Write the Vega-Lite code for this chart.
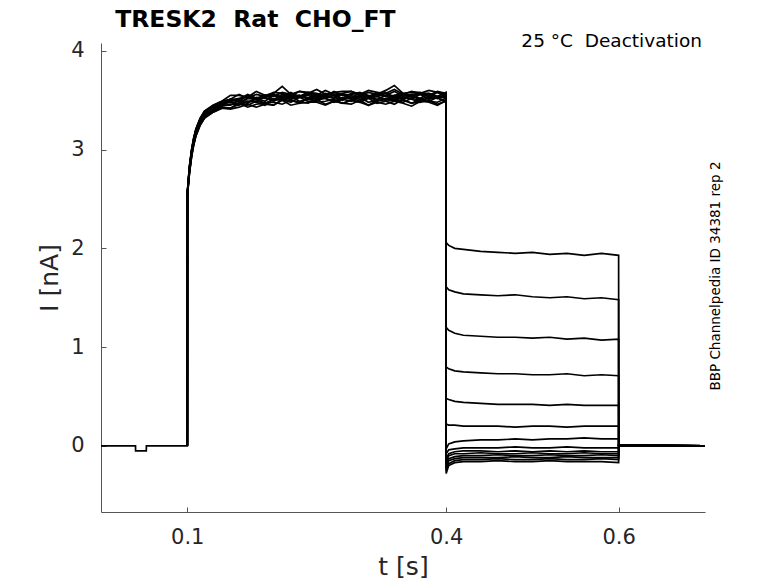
{
  "$schema": "https://vega.github.io/schema/vega-lite/v6.json",
  "width": 604,
  "height": 469,
  "autosize": "none",
  "padding": {"left": 101, "top": 43, "right": 73, "bottom": 71},
  "background": "white",
  "datasets": {
    "traces": [
      {"s":1,"t":0,"i":0},{"s":1,"t":0.04,"i":0},{"s":1,"t":0.0401,"i":-0.05},{"s":1,"t":0.0525,"i":-0.05},{"s":1,"t":0.0526,"i":0},
      {"s":1,"t":0.1,"i":0},{"s":1,"t":0.1001,"i":2.56},{"s":1,"t":0.1025,"i":2.82},{"s":1,"t":0.105,"i":2.99},{"s":1,"t":0.1075,"i":3.11},{"s":1,"t":0.11,"i":3.2},{"s":1,"t":0.115,"i":3.31},{"s":1,"t":0.12,"i":3.38},{"s":1,"t":0.13,"i":3.44},{"s":1,"t":0.14,"i":3.48},
      {"s":1,"t":0.15,"i":3.51},{"s":1,"t":0.16,"i":3.51},{"s":1,"t":0.17,"i":3.56},{"s":1,"t":0.18,"i":3.52},{"s":1,"t":0.19,"i":3.55},{"s":1,"t":0.2,"i":3.54},{"s":1,"t":0.21,"i":3.58},{"s":1,"t":0.22,"i":3.56},{"s":1,"t":0.23,"i":3.53},{"s":1,"t":0.24,"i":3.58},{"s":1,"t":0.25,"i":3.57},{"s":1,"t":0.26,"i":3.54},{"s":1,"t":0.27,"i":3.59},
      {"s":1,"t":0.28,"i":3.55},{"s":1,"t":0.29,"i":3.56},{"s":1,"t":0.3,"i":3.58},{"s":1,"t":0.31,"i":3.54},{"s":1,"t":0.32,"i":3.57},{"s":1,"t":0.33,"i":3.55},{"s":1,"t":0.34,"i":3.59},{"s":1,"t":0.35,"i":3.54},{"s":1,"t":0.36,"i":3.56},{"s":1,"t":0.37,"i":3.57},{"s":1,"t":0.38,"i":3.57},{"s":1,"t":0.39,"i":3.54},{"s":1,"t":0.3999,"i":3.58},
      {"s":1,"t":0.4,"i":2.06},{"s":1,"t":0.403,"i":2.03},{"s":1,"t":0.41,"i":2.0},{"s":1,"t":0.42,"i":1.99},{"s":1,"t":0.44,"i":1.97},{"s":1,"t":0.46,"i":1.96},{"s":1,"t":0.48,"i":1.95},{"s":1,"t":0.5,"i":1.96},{"s":1,"t":0.52,"i":1.94},{"s":1,"t":0.54,"i":1.95},{"s":1,"t":0.56,"i":1.93},{"s":1,"t":0.58,"i":1.95},{"s":1,"t":0.5999,"i":1.93},
      {"s":1,"t":0.6,"i":0.005},{"s":1,"t":0.7,"i":0},

      {"s":2,"t":0.1,"i":0},{"s":2,"t":0.1001,"i":2.54},{"s":2,"t":0.1025,"i":2.77},{"s":2,"t":0.105,"i":2.94},{"s":2,"t":0.1075,"i":3.06},{"s":2,"t":0.11,"i":3.15},{"s":2,"t":0.115,"i":3.26},{"s":2,"t":0.12,"i":3.33},{"s":2,"t":0.13,"i":3.39},{"s":2,"t":0.14,"i":3.43},
      {"s":2,"t":0.15,"i":3.42},{"s":2,"t":0.16,"i":3.46},{"s":2,"t":0.17,"i":3.45},{"s":2,"t":0.18,"i":3.49},{"s":2,"t":0.19,"i":3.47},{"s":2,"t":0.2,"i":3.45},{"s":2,"t":0.21,"i":3.51},{"s":2,"t":0.22,"i":3.5},{"s":2,"t":0.23,"i":3.47},{"s":2,"t":0.24,"i":3.52},{"s":2,"t":0.25,"i":3.48},{"s":2,"t":0.26,"i":3.49},{"s":2,"t":0.27,"i":3.51},
      {"s":2,"t":0.28,"i":3.47},{"s":2,"t":0.29,"i":3.5},{"s":2,"t":0.3,"i":3.48},{"s":2,"t":0.31,"i":3.52},{"s":2,"t":0.32,"i":3.47},{"s":2,"t":0.33,"i":3.49},{"s":2,"t":0.34,"i":3.5},{"s":2,"t":0.35,"i":3.5},{"s":2,"t":0.36,"i":3.47},{"s":2,"t":0.37,"i":3.51},{"s":2,"t":0.38,"i":3.49},{"s":2,"t":0.39,"i":3.48},{"s":2,"t":0.3999,"i":3.52},
      {"s":2,"t":0.4,"i":1.61},{"s":2,"t":0.403,"i":1.58},{"s":2,"t":0.41,"i":1.56},{"s":2,"t":0.42,"i":1.54},{"s":2,"t":0.44,"i":1.53},{"s":2,"t":0.46,"i":1.52},{"s":2,"t":0.48,"i":1.53},{"s":2,"t":0.5,"i":1.51},{"s":2,"t":0.52,"i":1.5},{"s":2,"t":0.54,"i":1.51},{"s":2,"t":0.56,"i":1.49},{"s":2,"t":0.58,"i":1.5},{"s":2,"t":0.5999,"i":1.48},
      {"s":2,"t":0.6,"i":0.005},{"s":2,"t":0.7,"i":0},

      {"s":3,"t":0.1,"i":0},{"s":3,"t":0.1001,"i":2.55},{"s":3,"t":0.1025,"i":2.8},{"s":3,"t":0.105,"i":2.97},{"s":3,"t":0.1075,"i":3.09},{"s":3,"t":0.11,"i":3.18},{"s":3,"t":0.115,"i":3.29},{"s":3,"t":0.12,"i":3.36},{"s":3,"t":0.13,"i":3.42},{"s":3,"t":0.14,"i":3.46},
      {"s":3,"t":0.15,"i":3.5},{"s":3,"t":0.16,"i":3.49},{"s":3,"t":0.17,"i":3.47},{"s":3,"t":0.18,"i":3.53},{"s":3,"t":0.19,"i":3.52},{"s":3,"t":0.2,"i":3.5},{"s":3,"t":0.21,"i":3.56},{"s":3,"t":0.22,"i":3.52},{"s":3,"t":0.23,"i":3.53},{"s":3,"t":0.24,"i":3.55},{"s":3,"t":0.25,"i":3.51},{"s":3,"t":0.26,"i":3.54},{"s":3,"t":0.27,"i":3.52},
      {"s":3,"t":0.28,"i":3.56},{"s":3,"t":0.29,"i":3.51},{"s":3,"t":0.3,"i":3.53},{"s":3,"t":0.31,"i":3.54},{"s":3,"t":0.32,"i":3.54},{"s":3,"t":0.33,"i":3.51},{"s":3,"t":0.34,"i":3.55},{"s":3,"t":0.35,"i":3.53},{"s":3,"t":0.36,"i":3.52},{"s":3,"t":0.37,"i":3.56},{"s":3,"t":0.38,"i":3.51},{"s":3,"t":0.39,"i":3.54},{"s":3,"t":0.3999,"i":3.52},
      {"s":3,"t":0.4,"i":1.2},{"s":3,"t":0.403,"i":1.17},{"s":3,"t":0.41,"i":1.14},{"s":3,"t":0.42,"i":1.12},{"s":3,"t":0.44,"i":1.11},{"s":3,"t":0.46,"i":1.1},{"s":3,"t":0.48,"i":1.1},{"s":3,"t":0.5,"i":1.09},{"s":3,"t":0.52,"i":1.1},{"s":3,"t":0.54,"i":1.08},{"s":3,"t":0.56,"i":1.09},{"s":3,"t":0.58,"i":1.07},{"s":3,"t":0.5999,"i":1.08},
      {"s":3,"t":0.6,"i":0.005},{"s":3,"t":0.7,"i":0},

      {"s":4,"t":0.1,"i":0},{"s":4,"t":0.1001,"i":2.57},{"s":4,"t":0.1025,"i":2.83},{"s":4,"t":0.105,"i":3.0},{"s":4,"t":0.1075,"i":3.12},{"s":4,"t":0.11,"i":3.21},{"s":4,"t":0.115,"i":3.32},{"s":4,"t":0.12,"i":3.39},{"s":4,"t":0.13,"i":3.45},{"s":4,"t":0.14,"i":3.49},
      {"s":4,"t":0.15,"i":3.55},{"s":4,"t":0.16,"i":3.55},{"s":4,"t":0.17,"i":3.53},{"s":4,"t":0.18,"i":3.59},{"s":4,"t":0.19,"i":3.55},{"s":4,"t":0.2,"i":3.57},{"s":4,"t":0.21,"i":3.64},{"s":4,"t":0.22,"i":3.56},{"s":4,"t":0.23,"i":3.59},{"s":4,"t":0.24,"i":3.57},{"s":4,"t":0.25,"i":3.61},{"s":4,"t":0.26,"i":3.56},{"s":4,"t":0.27,"i":3.58},
      {"s":4,"t":0.28,"i":3.59},{"s":4,"t":0.29,"i":3.59},{"s":4,"t":0.3,"i":3.56},{"s":4,"t":0.31,"i":3.6},{"s":4,"t":0.32,"i":3.58},{"s":4,"t":0.33,"i":3.57},{"s":4,"t":0.34,"i":3.61},{"s":4,"t":0.35,"i":3.56},{"s":4,"t":0.36,"i":3.59},{"s":4,"t":0.37,"i":3.57},{"s":4,"t":0.38,"i":3.6},{"s":4,"t":0.39,"i":3.58},{"s":4,"t":0.3999,"i":3.55},
      {"s":4,"t":0.4,"i":0.8},{"s":4,"t":0.403,"i":0.78},{"s":4,"t":0.41,"i":0.76},{"s":4,"t":0.42,"i":0.75},{"s":4,"t":0.44,"i":0.74},{"s":4,"t":0.46,"i":0.73},{"s":4,"t":0.48,"i":0.73},{"s":4,"t":0.5,"i":0.72},{"s":4,"t":0.52,"i":0.72},{"s":4,"t":0.54,"i":0.73},{"s":4,"t":0.56,"i":0.71},{"s":4,"t":0.58,"i":0.72},{"s":4,"t":0.5999,"i":0.71},
      {"s":4,"t":0.6,"i":0.005},{"s":4,"t":0.7,"i":0},

      {"s":5,"t":0.1,"i":0},{"s":5,"t":0.1001,"i":2.55},{"s":5,"t":0.1025,"i":2.79},{"s":5,"t":0.105,"i":2.96},{"s":5,"t":0.1075,"i":3.08},{"s":5,"t":0.11,"i":3.17},{"s":5,"t":0.115,"i":3.28},{"s":5,"t":0.12,"i":3.35},{"s":5,"t":0.13,"i":3.41},{"s":5,"t":0.14,"i":3.45},
      {"s":5,"t":0.15,"i":3.49},{"s":5,"t":0.16,"i":3.46},{"s":5,"t":0.17,"i":3.48},{"s":5,"t":0.18,"i":3.51},{"s":5,"t":0.19,"i":3.47},{"s":5,"t":0.2,"i":3.51},{"s":5,"t":0.21,"i":3.5},{"s":5,"t":0.22,"i":3.54},{"s":5,"t":0.23,"i":3.49},{"s":5,"t":0.24,"i":3.51},{"s":5,"t":0.25,"i":3.52},{"s":5,"t":0.26,"i":3.52},{"s":5,"t":0.27,"i":3.49},
      {"s":5,"t":0.28,"i":3.53},{"s":5,"t":0.29,"i":3.51},{"s":5,"t":0.3,"i":3.5},{"s":5,"t":0.31,"i":3.54},{"s":5,"t":0.32,"i":3.49},{"s":5,"t":0.33,"i":3.52},{"s":5,"t":0.34,"i":3.5},{"s":5,"t":0.35,"i":3.53},{"s":5,"t":0.36,"i":3.51},{"s":5,"t":0.37,"i":3.48},{"s":5,"t":0.38,"i":3.53},{"s":5,"t":0.39,"i":3.52},{"s":5,"t":0.3999,"i":3.49},
      {"s":5,"t":0.4,"i":0.48},{"s":5,"t":0.403,"i":0.47},{"s":5,"t":0.41,"i":0.45},{"s":5,"t":0.42,"i":0.44},{"s":5,"t":0.44,"i":0.43},{"s":5,"t":0.46,"i":0.42},{"s":5,"t":0.48,"i":0.42},{"s":5,"t":0.5,"i":0.42},{"s":5,"t":0.52,"i":0.41},{"s":5,"t":0.54,"i":0.42},{"s":5,"t":0.56,"i":0.41},{"s":5,"t":0.58,"i":0.41},{"s":5,"t":0.5999,"i":0.41},
      {"s":5,"t":0.6,"i":0.005},{"s":5,"t":0.7,"i":0},

      {"s":6,"t":0.1,"i":0},{"s":6,"t":0.1001,"i":2.56},{"s":6,"t":0.1025,"i":2.81},{"s":6,"t":0.105,"i":2.98},{"s":6,"t":0.1075,"i":3.1},{"s":6,"t":0.11,"i":3.19},{"s":6,"t":0.115,"i":3.3},{"s":6,"t":0.12,"i":3.37},{"s":6,"t":0.13,"i":3.43},{"s":6,"t":0.14,"i":3.47},
      {"s":6,"t":0.15,"i":3.51},{"s":6,"t":0.16,"i":3.48},{"s":6,"t":0.17,"i":3.52},{"s":6,"t":0.18,"i":3.51},{"s":6,"t":0.19,"i":3.55},{"s":6,"t":0.2,"i":3.51},{"s":6,"t":0.21,"i":3.54},{"s":6,"t":0.22,"i":3.55},{"s":6,"t":0.23,"i":3.55},{"s":6,"t":0.24,"i":3.52},{"s":6,"t":0.25,"i":3.56},{"s":6,"t":0.26,"i":3.54},{"s":6,"t":0.27,"i":3.53},
      {"s":6,"t":0.28,"i":3.57},{"s":6,"t":0.29,"i":3.52},{"s":6,"t":0.3,"i":3.55},{"s":6,"t":0.31,"i":3.53},{"s":6,"t":0.32,"i":3.56},{"s":6,"t":0.33,"i":3.54},{"s":6,"t":0.34,"i":3.51},{"s":6,"t":0.35,"i":3.56},{"s":6,"t":0.36,"i":3.55},{"s":6,"t":0.37,"i":3.52},{"s":6,"t":0.38,"i":3.57},{"s":6,"t":0.39,"i":3.53},{"s":6,"t":0.3999,"i":3.54},
      {"s":6,"t":0.4,"i":0.22},{"s":6,"t":0.403,"i":0.21},{"s":6,"t":0.41,"i":0.21},{"s":6,"t":0.42,"i":0.2},{"s":6,"t":0.44,"i":0.2},{"s":6,"t":0.46,"i":0.2},{"s":6,"t":0.48,"i":0.19},{"s":6,"t":0.5,"i":0.2},{"s":6,"t":0.52,"i":0.2},{"s":6,"t":0.54,"i":0.19},{"s":6,"t":0.56,"i":0.2},{"s":6,"t":0.58,"i":0.2},{"s":6,"t":0.5999,"i":0.2},
      {"s":6,"t":0.6,"i":0.005},{"s":6,"t":0.7,"i":0},

      {"s":7,"t":0.1,"i":0},{"s":7,"t":0.1001,"i":2.53},{"s":7,"t":0.1025,"i":2.76},{"s":7,"t":0.105,"i":2.93},{"s":7,"t":0.1075,"i":3.05},{"s":7,"t":0.11,"i":3.14},{"s":7,"t":0.115,"i":3.25},{"s":7,"t":0.12,"i":3.32},{"s":7,"t":0.13,"i":3.38},{"s":7,"t":0.14,"i":3.42},
      {"s":7,"t":0.15,"i":3.42},{"s":7,"t":0.16,"i":3.47},{"s":7,"t":0.17,"i":3.43},{"s":7,"t":0.18,"i":3.46},{"s":7,"t":0.19,"i":3.47},{"s":7,"t":0.2,"i":3.48},{"s":7,"t":0.21,"i":3.46},{"s":7,"t":0.22,"i":3.5},{"s":7,"t":0.23,"i":3.48},{"s":7,"t":0.24,"i":3.47},{"s":7,"t":0.25,"i":3.51},{"s":7,"t":0.26,"i":3.46},{"s":7,"t":0.27,"i":3.49},
      {"s":7,"t":0.28,"i":3.47},{"s":7,"t":0.29,"i":3.5},{"s":7,"t":0.3,"i":3.48},{"s":7,"t":0.31,"i":3.45},{"s":7,"t":0.32,"i":3.5},{"s":7,"t":0.33,"i":3.49},{"s":7,"t":0.34,"i":3.46},{"s":7,"t":0.35,"i":3.51},{"s":7,"t":0.36,"i":3.47},{"s":7,"t":0.37,"i":3.48},{"s":7,"t":0.38,"i":3.5},{"s":7,"t":0.39,"i":3.46},{"s":7,"t":0.3999,"i":3.49},
      {"s":7,"t":0.4,"i":-0.03},{"s":7,"t":0.403,"i":0.02},{"s":7,"t":0.41,"i":0.04},{"s":7,"t":0.42,"i":0.05},{"s":7,"t":0.44,"i":0.06},{"s":7,"t":0.46,"i":0.06},{"s":7,"t":0.48,"i":0.07},{"s":7,"t":0.5,"i":0.06},{"s":7,"t":0.52,"i":0.07},{"s":7,"t":0.54,"i":0.07},{"s":7,"t":0.56,"i":0.08},{"s":7,"t":0.58,"i":0.07},{"s":7,"t":0.5999,"i":0.07},
      {"s":7,"t":0.6,"i":0.005},{"s":7,"t":0.7,"i":0},

      {"s":8,"t":0.1,"i":0},{"s":8,"t":0.1001,"i":2.56},{"s":8,"t":0.1025,"i":2.81},{"s":8,"t":0.105,"i":2.98},{"s":8,"t":0.1075,"i":3.1},{"s":8,"t":0.11,"i":3.19},{"s":8,"t":0.115,"i":3.3},{"s":8,"t":0.12,"i":3.37},{"s":8,"t":0.13,"i":3.43},{"s":8,"t":0.14,"i":3.47},
      {"s":8,"t":0.15,"i":3.5},{"s":8,"t":0.16,"i":3.52},{"s":8,"t":0.17,"i":3.53},{"s":8,"t":0.18,"i":3.51},{"s":8,"t":0.19,"i":3.55},{"s":8,"t":0.2,"i":3.54},{"s":8,"t":0.21,"i":3.54},{"s":8,"t":0.22,"i":3.58},{"s":8,"t":0.23,"i":3.53},{"s":8,"t":0.24,"i":3.56},{"s":8,"t":0.25,"i":3.54},{"s":8,"t":0.26,"i":3.57},{"s":8,"t":0.27,"i":3.55},
      {"s":8,"t":0.28,"i":3.52},{"s":8,"t":0.29,"i":3.57},{"s":8,"t":0.3,"i":3.56},{"s":8,"t":0.31,"i":3.53},{"s":8,"t":0.32,"i":3.58},{"s":8,"t":0.33,"i":3.54},{"s":8,"t":0.34,"i":3.55},{"s":8,"t":0.35,"i":3.57},{"s":8,"t":0.36,"i":3.53},{"s":8,"t":0.37,"i":3.56},{"s":8,"t":0.38,"i":3.54},{"s":8,"t":0.39,"i":3.58},{"s":8,"t":0.3999,"i":3.53},
      {"s":8,"t":0.4,"i":-0.08},{"s":8,"t":0.403,"i":-0.04},{"s":8,"t":0.41,"i":-0.03},{"s":8,"t":0.42,"i":-0.02},{"s":8,"t":0.44,"i":-0.02},{"s":8,"t":0.46,"i":-0.02},{"s":8,"t":0.48,"i":-0.01},{"s":8,"t":0.5,"i":-0.02},{"s":8,"t":0.52,"i":-0.02},{"s":8,"t":0.54,"i":-0.01},{"s":8,"t":0.56,"i":-0.02},{"s":8,"t":0.58,"i":-0.02},{"s":8,"t":0.5999,"i":-0.02},
      {"s":8,"t":0.6,"i":0.005},{"s":8,"t":0.7,"i":0},

      {"s":9,"t":0.1,"i":0},{"s":9,"t":0.1001,"i":2.55},{"s":9,"t":0.1025,"i":2.79},{"s":9,"t":0.105,"i":2.96},{"s":9,"t":0.1075,"i":3.08},{"s":9,"t":0.11,"i":3.17},{"s":9,"t":0.115,"i":3.28},{"s":9,"t":0.12,"i":3.35},{"s":9,"t":0.13,"i":3.41},{"s":9,"t":0.14,"i":3.45},
      {"s":9,"t":0.15,"i":3.45},{"s":9,"t":0.16,"i":3.5},{"s":9,"t":0.17,"i":3.49},{"s":9,"t":0.18,"i":3.49},{"s":9,"t":0.19,"i":3.53},{"s":9,"t":0.2,"i":3.49},{"s":9,"t":0.21,"i":3.53},{"s":9,"t":0.22,"i":3.51},{"s":9,"t":0.23,"i":3.54},{"s":9,"t":0.24,"i":3.52},{"s":9,"t":0.25,"i":3.49},{"s":9,"t":0.26,"i":3.54},{"s":9,"t":0.27,"i":3.53},
      {"s":9,"t":0.28,"i":3.5},{"s":9,"t":0.29,"i":3.55},{"s":9,"t":0.3,"i":3.51},{"s":9,"t":0.31,"i":3.52},{"s":9,"t":0.32,"i":3.54},{"s":9,"t":0.33,"i":3.5},{"s":9,"t":0.34,"i":3.53},{"s":9,"t":0.35,"i":3.51},{"s":9,"t":0.36,"i":3.55},{"s":9,"t":0.37,"i":3.5},{"s":9,"t":0.38,"i":3.52},{"s":9,"t":0.39,"i":3.53},{"s":9,"t":0.3999,"i":3.53},
      {"s":9,"t":0.4,"i":-0.13},{"s":9,"t":0.403,"i":-0.08},{"s":9,"t":0.41,"i":-0.06},{"s":9,"t":0.42,"i":-0.05},{"s":9,"t":0.44,"i":-0.05},{"s":9,"t":0.46,"i":-0.06},{"s":9,"t":0.48,"i":-0.05},{"s":9,"t":0.5,"i":-0.06},{"s":9,"t":0.52,"i":-0.05},{"s":9,"t":0.54,"i":-0.06},{"s":9,"t":0.56,"i":-0.05},{"s":9,"t":0.58,"i":-0.06},{"s":9,"t":0.5999,"i":-0.06},
      {"s":9,"t":0.6,"i":0.005},{"s":9,"t":0.7,"i":0},

      {"s":10,"t":0.1,"i":0},{"s":10,"t":0.1001,"i":2.57},{"s":10,"t":0.1025,"i":2.83},{"s":10,"t":0.105,"i":3.0},{"s":10,"t":0.1075,"i":3.12},{"s":10,"t":0.11,"i":3.21},{"s":10,"t":0.115,"i":3.32},{"s":10,"t":0.12,"i":3.39},{"s":10,"t":0.13,"i":3.45},{"s":10,"t":0.14,"i":3.49},
      {"s":10,"t":0.15,"i":3.51},{"s":10,"t":0.16,"i":3.56},{"s":10,"t":0.17,"i":3.52},{"s":10,"t":0.18,"i":3.56},{"s":10,"t":0.19,"i":3.54},{"s":10,"t":0.2,"i":3.58},{"s":10,"t":0.21,"i":3.57},{"s":10,"t":0.22,"i":3.54},{"s":10,"t":0.23,"i":3.59},{"s":10,"t":0.24,"i":3.58},{"s":10,"t":0.25,"i":3.55},{"s":10,"t":0.26,"i":3.6},{"s":10,"t":0.27,"i":3.56},
      {"s":10,"t":0.28,"i":3.57},{"s":10,"t":0.29,"i":3.59},{"s":10,"t":0.3,"i":3.55},{"s":10,"t":0.31,"i":3.58},{"s":10,"t":0.32,"i":3.56},{"s":10,"t":0.33,"i":3.6},{"s":10,"t":0.34,"i":3.65},{"s":10,"t":0.35,"i":3.57},{"s":10,"t":0.36,"i":3.58},{"s":10,"t":0.37,"i":3.58},{"s":10,"t":0.38,"i":3.55},{"s":10,"t":0.39,"i":3.59},{"s":10,"t":0.3999,"i":3.57},
      {"s":10,"t":0.4,"i":-0.16},{"s":10,"t":0.403,"i":-0.1},{"s":10,"t":0.41,"i":-0.08},{"s":10,"t":0.42,"i":-0.08},{"s":10,"t":0.44,"i":-0.07},{"s":10,"t":0.46,"i":-0.08},{"s":10,"t":0.48,"i":-0.08},{"s":10,"t":0.5,"i":-0.07},{"s":10,"t":0.52,"i":-0.08},{"s":10,"t":0.54,"i":-0.08},{"s":10,"t":0.56,"i":-0.07},{"s":10,"t":0.58,"i":-0.08},{"s":10,"t":0.5999,"i":-0.08},
      {"s":10,"t":0.6,"i":0.005},{"s":10,"t":0.7,"i":0},

      {"s":11,"t":0.1,"i":0},{"s":11,"t":0.1001,"i":2.54},{"s":11,"t":0.1025,"i":2.78},{"s":11,"t":0.105,"i":2.95},{"s":11,"t":0.1075,"i":3.07},{"s":11,"t":0.11,"i":3.16},{"s":11,"t":0.115,"i":3.27},{"s":11,"t":0.12,"i":3.34},{"s":11,"t":0.13,"i":3.4},{"s":11,"t":0.14,"i":3.44},
      {"s":11,"t":0.15,"i":3.46},{"s":11,"t":0.16,"i":3.45},{"s":11,"t":0.17,"i":3.49},{"s":11,"t":0.18,"i":3.48},{"s":11,"t":0.19,"i":3.45},{"s":11,"t":0.2,"i":3.51},{"s":11,"t":0.21,"i":3.51},{"s":11,"t":0.22,"i":3.48},{"s":11,"t":0.23,"i":3.53},{"s":11,"t":0.24,"i":3.49},{"s":11,"t":0.25,"i":3.5},{"s":11,"t":0.26,"i":3.52},{"s":11,"t":0.27,"i":3.48},
      {"s":11,"t":0.28,"i":3.51},{"s":11,"t":0.29,"i":3.49},{"s":11,"t":0.3,"i":3.53},{"s":11,"t":0.31,"i":3.48},{"s":11,"t":0.32,"i":3.5},{"s":11,"t":0.33,"i":3.51},{"s":11,"t":0.34,"i":3.51},{"s":11,"t":0.35,"i":3.48},{"s":11,"t":0.36,"i":3.52},{"s":11,"t":0.37,"i":3.5},{"s":11,"t":0.38,"i":3.49},{"s":11,"t":0.39,"i":3.53},{"s":11,"t":0.3999,"i":3.48},
      {"s":11,"t":0.4,"i":-0.19},{"s":11,"t":0.403,"i":-0.13},{"s":11,"t":0.41,"i":-0.11},{"s":11,"t":0.42,"i":-0.1},{"s":11,"t":0.44,"i":-0.1},{"s":11,"t":0.46,"i":-0.09},{"s":11,"t":0.48,"i":-0.1},{"s":11,"t":0.5,"i":-0.1},{"s":11,"t":0.52,"i":-0.09},{"s":11,"t":0.54,"i":-0.1},{"s":11,"t":0.56,"i":-0.1},{"s":11,"t":0.58,"i":-0.09},{"s":11,"t":0.5999,"i":-0.1},
      {"s":11,"t":0.6,"i":0.005},{"s":11,"t":0.7,"i":0},

      {"s":12,"t":0.1,"i":0},{"s":12,"t":0.1001,"i":2.55},{"s":12,"t":0.1025,"i":2.8},{"s":12,"t":0.105,"i":2.97},{"s":12,"t":0.1075,"i":3.09},{"s":12,"t":0.11,"i":3.18},{"s":12,"t":0.115,"i":3.29},{"s":12,"t":0.12,"i":3.36},{"s":12,"t":0.13,"i":3.42},{"s":12,"t":0.14,"i":3.46},
      {"s":12,"t":0.15,"i":3.48},{"s":12,"t":0.16,"i":3.46},{"s":12,"t":0.17,"i":3.52},{"s":12,"t":0.18,"i":3.52},{"s":12,"t":0.19,"i":3.49},{"s":12,"t":0.2,"i":3.55},{"s":12,"t":0.21,"i":3.52},{"s":12,"t":0.22,"i":3.53},{"s":12,"t":0.23,"i":3.55},{"s":12,"t":0.24,"i":3.51},{"s":12,"t":0.25,"i":3.54},{"s":12,"t":0.26,"i":3.52},{"s":12,"t":0.27,"i":3.56},
      {"s":12,"t":0.28,"i":3.51},{"s":12,"t":0.29,"i":3.53},{"s":12,"t":0.3,"i":3.54},{"s":12,"t":0.31,"i":3.54},{"s":12,"t":0.32,"i":3.51},{"s":12,"t":0.33,"i":3.55},{"s":12,"t":0.34,"i":3.53},{"s":12,"t":0.35,"i":3.52},{"s":12,"t":0.36,"i":3.56},{"s":12,"t":0.37,"i":3.51},{"s":12,"t":0.38,"i":3.54},{"s":12,"t":0.39,"i":3.52},{"s":12,"t":0.3999,"i":3.55},
      {"s":12,"t":0.4,"i":-0.22},{"s":12,"t":0.403,"i":-0.15},{"s":12,"t":0.41,"i":-0.13},{"s":12,"t":0.42,"i":-0.12},{"s":12,"t":0.44,"i":-0.12},{"s":12,"t":0.46,"i":-0.12},{"s":12,"t":0.48,"i":-0.11},{"s":12,"t":0.5,"i":-0.12},{"s":12,"t":0.52,"i":-0.12},{"s":12,"t":0.54,"i":-0.11},{"s":12,"t":0.56,"i":-0.12},{"s":12,"t":0.58,"i":-0.12},{"s":12,"t":0.5999,"i":-0.12},
      {"s":12,"t":0.6,"i":0.005},{"s":12,"t":0.7,"i":0},

      {"s":13,"t":0.1,"i":0},{"s":13,"t":0.1001,"i":2.56},{"s":13,"t":0.1025,"i":2.82},{"s":13,"t":0.105,"i":2.99},{"s":13,"t":0.1075,"i":3.11},{"s":13,"t":0.11,"i":3.2},{"s":13,"t":0.115,"i":3.31},{"s":13,"t":0.12,"i":3.38},{"s":13,"t":0.13,"i":3.44},{"s":13,"t":0.14,"i":3.48},
      {"s":13,"t":0.15,"i":3.51},{"s":13,"t":0.16,"i":3.49},{"s":13,"t":0.17,"i":3.55},{"s":13,"t":0.18,"i":3.52},{"s":13,"t":0.19,"i":3.53},{"s":13,"t":0.2,"i":3.56},{"s":13,"t":0.21,"i":3.53},{"s":13,"t":0.22,"i":3.56},{"s":13,"t":0.23,"i":3.54},{"s":13,"t":0.24,"i":3.58},{"s":13,"t":0.25,"i":3.53},{"s":13,"t":0.26,"i":3.55},{"s":13,"t":0.27,"i":3.56},
      {"s":13,"t":0.28,"i":3.56},{"s":13,"t":0.29,"i":3.53},{"s":13,"t":0.3,"i":3.57},{"s":13,"t":0.31,"i":3.55},{"s":13,"t":0.32,"i":3.54},{"s":13,"t":0.33,"i":3.58},{"s":13,"t":0.34,"i":3.53},{"s":13,"t":0.35,"i":3.56},{"s":13,"t":0.36,"i":3.54},{"s":13,"t":0.37,"i":3.57},{"s":13,"t":0.38,"i":3.55},{"s":13,"t":0.39,"i":3.52},{"s":13,"t":0.3999,"i":3.57},
      {"s":13,"t":0.4,"i":-0.25},{"s":13,"t":0.403,"i":-0.18},{"s":13,"t":0.41,"i":-0.15},{"s":13,"t":0.42,"i":-0.14},{"s":13,"t":0.44,"i":-0.14},{"s":13,"t":0.46,"i":-0.13},{"s":13,"t":0.48,"i":-0.14},{"s":13,"t":0.5,"i":-0.14},{"s":13,"t":0.52,"i":-0.13},{"s":13,"t":0.54,"i":-0.14},{"s":13,"t":0.56,"i":-0.14},{"s":13,"t":0.58,"i":-0.13},{"s":13,"t":0.5999,"i":-0.14},
      {"s":13,"t":0.6,"i":0.005},{"s":13,"t":0.7,"i":0},

      {"s":14,"t":0.1,"i":0},{"s":14,"t":0.1001,"i":2.53},{"s":14,"t":0.1025,"i":2.76},{"s":14,"t":0.105,"i":2.93},{"s":14,"t":0.1075,"i":3.05},{"s":14,"t":0.11,"i":3.14},{"s":14,"t":0.115,"i":3.25},{"s":14,"t":0.12,"i":3.32},{"s":14,"t":0.13,"i":3.38},{"s":14,"t":0.14,"i":3.42},
      {"s":14,"t":0.15,"i":3.41},{"s":14,"t":0.16,"i":3.43},{"s":14,"t":0.17,"i":3.46},{"s":14,"t":0.18,"i":3.43},{"s":14,"t":0.19,"i":3.46},{"s":14,"t":0.2,"i":3.45},{"s":14,"t":0.21,"i":3.5},{"s":14,"t":0.22,"i":3.45},{"s":14,"t":0.23,"i":3.47},{"s":14,"t":0.24,"i":3.48},{"s":14,"t":0.25,"i":3.48},{"s":14,"t":0.26,"i":3.45},{"s":14,"t":0.27,"i":3.49},
      {"s":14,"t":0.28,"i":3.47},{"s":14,"t":0.29,"i":3.46},{"s":14,"t":0.3,"i":3.5},{"s":14,"t":0.31,"i":3.45},{"s":14,"t":0.32,"i":3.48},{"s":14,"t":0.33,"i":3.46},{"s":14,"t":0.34,"i":3.49},{"s":14,"t":0.35,"i":3.47},{"s":14,"t":0.36,"i":3.44},{"s":14,"t":0.37,"i":3.49},{"s":14,"t":0.38,"i":3.48},{"s":14,"t":0.39,"i":3.45},{"s":14,"t":0.3999,"i":3.5},
      {"s":14,"t":0.4,"i":-0.28},{"s":14,"t":0.403,"i":-0.2},{"s":14,"t":0.41,"i":-0.17},{"s":14,"t":0.42,"i":-0.16},{"s":14,"t":0.44,"i":-0.16},{"s":14,"t":0.46,"i":-0.15},{"s":14,"t":0.48,"i":-0.16},{"s":14,"t":0.5,"i":-0.16},{"s":14,"t":0.52,"i":-0.15},{"s":14,"t":0.54,"i":-0.16},{"s":14,"t":0.56,"i":-0.16},{"s":14,"t":0.58,"i":-0.16},{"s":14,"t":0.5999,"i":-0.17},
      {"s":14,"t":0.6,"i":0.005},{"s":14,"t":0.7,"i":0}
    ],
    "heading": [
      {"label": "TRESK2\u00a0 Rat\u00a0 CHO_FT", "t": 0.0165, "i": 4.243}
    ],
    "notes": [
      {"label": "25 °C\u00a0 Deactivation", "t": 0.6965, "i": 4.04}
    ],
    "side": [
      {"label": "BBP Channelpedia ID 34381 rep 2", "t": 0.7127, "i": 1.72}
    ]
  },
  "encoding": {
    "x": {
      "field": "t",
      "type": "quantitative",
      "scale": {"domain": [0, 0.7], "nice": false, "zero": false},
      "axis": {
        "title": "t [s]",
        "values": [0.1, 0.4, 0.6],
        "format": ".1f",
        "grid": false,
        "tickSize": -5,
        "labelPadding": 19,
        "titlePadding": 7
      }
    },
    "y": {
      "field": "i",
      "type": "quantitative",
      "scale": {"domain": [-0.67, 4.08], "nice": false, "zero": false},
      "axis": {
        "title": "I [nA]",
        "values": [0, 1, 2, 3, 4],
        "format": "d",
        "grid": false,
        "tickSize": -5,
        "labelPadding": 22,
        "titlePadding": 8
      }
    }
  },
  "layer": [
    {
      "data": {"name": "traces"},
      "mark": {"type": "line", "color": "black", "strokeWidth": 1.7, "clip": true},
      "encoding": {"detail": {"field": "s", "type": "nominal"}}
    },
    {
      "data": {"name": "heading"},
      "mark": {"type": "text", "align": "left", "baseline": "alphabetic", "font": "DejaVu Sans", "fontSize": 23.5, "fontWeight": "bold", "color": "black"},
      "encoding": {"text": {"field": "label"}}
    },
    {
      "data": {"name": "notes"},
      "mark": {"type": "text", "align": "right", "baseline": "alphabetic", "font": "DejaVu Sans", "fontSize": 18.5, "color": "black"},
      "encoding": {"text": {"field": "label"}}
    },
    {
      "data": {"name": "side"},
      "mark": {"type": "text", "align": "center", "baseline": "middle", "angle": 270, "font": "DejaVu Sans", "fontSize": 13.5, "color": "black"},
      "encoding": {"text": {"field": "label"}}
    }
  ],
  "config": {
    "view": {"stroke": null},
    "font": "DejaVu Sans",
    "axis": {
      "domainColor": "#555555",
      "tickColor": "#555555",
      "labelColor": "#262626",
      "titleColor": "#262626",
      "labelFont": "DejaVu Sans",
      "titleFont": "DejaVu Sans",
      "labelFontSize": 21,
      "titleFontSize": 25,
      "titleFontWeight": "normal",
      "domainWidth": 1,
      "tickWidth": 1
    }
  }
}
